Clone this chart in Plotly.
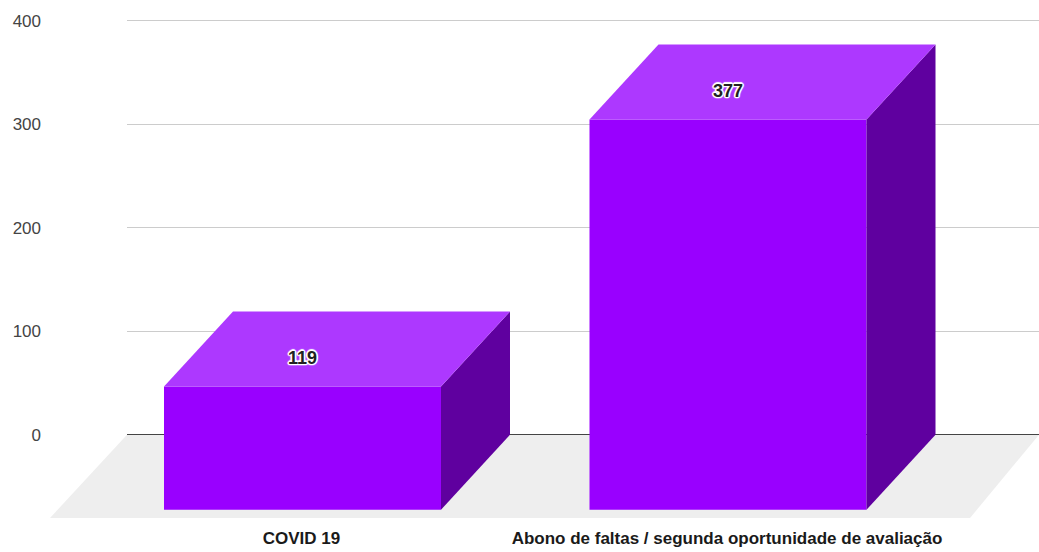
import plotly.graph_objects as go

categories = ["COVID 19", "Abono de faltas / segunda oportunidade de avaliação"]
values = [119, 377]
y_ticks = [0, 100, 200, 300, 400]

FONT = "Liberation Sans"
FRONT, TOP, SIDE = "#9900ff", "#ad38ff", "#5f009f"
FLOOR, GRID, ZERO = "#eeeeee", "#cccccc", "#444444"

W, H = 1039, 552
PLOT_L, GRID_L, PLOT_R, PLOT_T, PLOT_B = 50, 127, 1039, 10, 518
PX_PER_CAT, CAT0_PX = 425.5, 302.5
BAR_W = 277 / PX_PER_CAT
DX = 69 / PX_PER_CAT
DEPTH = 72.5
Y_MIN, Y_MAX = -80.5, 410.3


def cat_x(px):
    return (px - CAT0_PX) / PX_PER_CAT


hidden = dict(hoverinfo="skip", showlegend=False)
fig = go.Figure()

# floor (first subplot, so it lies under the axis lines and the bars)
fig.add_trace(go.Scatter(x=[cat_x(GRID_L), cat_x(PLOT_R), cat_x(970), cat_x(PLOT_L), cat_x(GRID_L)],
                         y=[0, 0, Y_MIN, Y_MIN, 0], xaxis="x", yaxis="y", mode="lines",
                         fill="toself", fillcolor=FLOOR, line=dict(width=0), **hidden))

# invisible trace that makes the gridline subplot exist
fig.add_trace(go.Scatter(x=[0, 1], y=[0, 0], xaxis="x2", yaxis="y2", mode="lines",
                         line=dict(width=0), **hidden))

# front faces
fig.add_trace(go.Bar(x=list(range(len(values))), y=values, base=[-DEPTH] * len(values),
                     width=BAR_W, marker=dict(color=FRONT, line=dict(width=0)),
                     xaxis="x3", yaxis="y3", **hidden))

for i, v in enumerate(values):
    l, r = i - BAR_W / 2, i + BAR_W / 2
    fig.add_trace(go.Scatter(x=[r, r + DX, r + DX, r, r], y=[-DEPTH, 0, v, v - DEPTH, -DEPTH],
                             xaxis="x3", yaxis="y3", mode="lines", fill="toself", fillcolor=SIDE,
                             line=dict(width=0), **hidden))
    fig.add_trace(go.Scatter(x=[l, r, r + DX, l + DX, l], y=[v - DEPTH] * 2 + [v] * 2 + [v - DEPTH],
                             xaxis="x3", yaxis="y3", mode="lines", fill="toself", fillcolor=TOP,
                             line=dict(width=0), **hidden))

# value labels
SHADOW = ",".join(f"{a}px {b}px 1px #ffffff" for a, b in
                  [(-1, -1), (-1, 0), (-1, 1), (0, -1), (0, 1), (1, -1), (1, 0), (1, 1),
                   (-1.5, 0), (1.5, 0), (0, -1.5), (0, 1.5)])
fig.add_trace(go.Scatter(x=list(range(len(values))), y=[v - 46 for v in values],
                         text=[str(v) for v in values], mode="text", textposition="middle center",
                         textfont=dict(family=FONT, size=18, color="#222222", weight="bold", shadow=SHADOW),
                         xaxis="x3", yaxis="y3", **hidden))

plot_w = PLOT_R - PLOT_L
full_x = [cat_x(PLOT_L), cat_x(PLOT_R)]
full_y = [Y_MIN, Y_MAX]

fig.update_layout(
    width=W, height=H, autosize=False,
    margin=dict(l=PLOT_L, r=W - PLOT_R, t=PLOT_T, b=H - PLOT_B, pad=0),
    paper_bgcolor="#ffffff", plot_bgcolor="rgba(0,0,0,0)",
    showlegend=False,
    xaxis=dict(domain=[0, 1], range=full_x, visible=False, anchor="y"),
    yaxis=dict(domain=[0, 1], range=full_y, visible=False, anchor="x"),
    xaxis2=dict(domain=[(GRID_L - PLOT_L) / plot_w, 1], range=[0, 1], visible=False, anchor="y2"),
    yaxis2=dict(domain=[0, 1], range=full_y, anchor="x2", tickvals=y_ticks,
                showgrid=True, gridcolor=GRID, gridwidth=1,
                zeroline=True, zerolinecolor=ZERO, zerolinewidth=1, showline=False,
                ticks="", ticklabelstandoff=GRID_L - 42,
                tickfont=dict(family=FONT, size=17, color="#444444")),
    xaxis3=dict(domain=[0, 1], range=full_x, anchor="y3",
                tickvals=list(range(len(categories))), ticktext=categories,
                showgrid=False, zeroline=False, showline=False, ticks="",
                ticklabelstandoff=8, ticklabelshift=-1,
                tickfont=dict(family=FONT, size=17, color="#1a1a1a", weight="bold")),
    yaxis3=dict(domain=[0, 1], range=full_y, anchor="x3", visible=False),
)

fig.write_html("out.html", config={"displayModeBar": False},
               post_script="document.body.style.margin='0';")
